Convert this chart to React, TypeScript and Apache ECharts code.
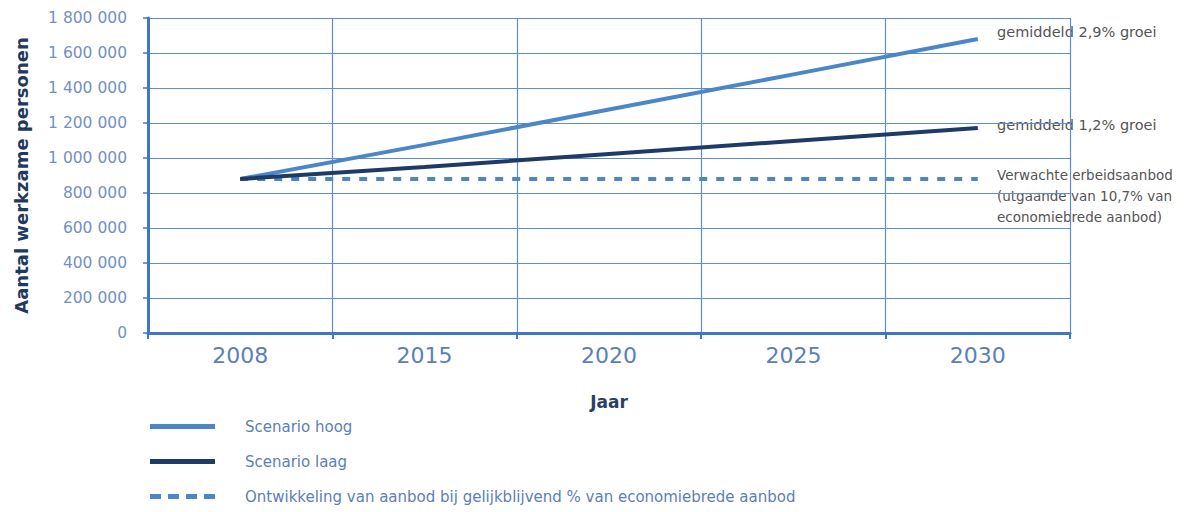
import React, { useEffect, useRef } from "react";
import * as echarts from "echarts";

const years = ["2008", "2015", "2020", "2025", "2030"];
const scenarioHoog = [880000, 1075000, 1277000, 1478000, 1680000];
const scenarioLaag = [880000, 949000, 1023000, 1097000, 1171000];
const gelijkblijvend = [880000, 880000, 880000, 880000, 880000];
const seriesNames = [
  "Scenario hoog",
  "Scenario laag",
  "Ontwikkeling van aanbod bij gelijkblijvend % van economiebrede aanbod",
];
const annotations = [
  "gemiddeld 2,9% groei",
  "gemiddeld 1,2% groei",
  "Verwachte erbeidsaanbod\n(utgaande van 10,7% van\neconomiebrede aanbod)",
];

const FONT = "DejaVu Sans";
const BLUE = "#4a86c8";
const NAVY = "#1e3a66";
const GRID = "#5b8fd0";
const AXIS = "#3f78c0";

export default function App() {
  const ref = useRef<HTMLDivElement>(null);
  useEffect(() => {
    if (!ref.current) return;
    const chart = echarts.init(ref.current, undefined, { renderer: "svg" });
    const fmt = (v: number) => String(v).replace(/\B(?=(\d{3})+(?!\d))/g, " ");
    chart.setOption({
      animation: false,
      grid: {
        left: 148,
        right: 132,
        top: 18,
        bottom: 179,
        containLabel: false,
        outerBoundsMode: "none",
      },
      xAxis: {
        type: "category",
        data: years,
        boundaryGap: true,
        name: "Jaar",
        nameLocation: "middle",
        nameGap: 60,
        nameTextStyle: { fontFamily: FONT, fontWeight: "bold", fontSize: 17, color: "#2a3f62" },
        axisLine: { show: true, lineStyle: { color: AXIS, width: 3 } },
        axisTick: { show: true, length: 6, lineStyle: { color: AXIS, width: 2 } },
        axisLabel: { fontFamily: FONT, fontSize: 22, color: "#5b80b8", margin: 11 },
        splitLine: { show: true, lineStyle: { color: GRID, width: 1.2 } },
      },
      yAxis: {
        type: "value",
        min: 0,
        max: 1800000,
        interval: 200000,
        name: "Aantal werkzame personen",
        nameLocation: "middle",
        nameGap: 118,
        nameTextStyle: { fontFamily: FONT, fontWeight: "bold", fontSize: 18, color: "#1f3a60" },
        axisLine: { show: true, lineStyle: { color: AXIS, width: 3 } },
        axisTick: { show: true, length: 5, lineStyle: { color: AXIS, width: 1.5 } },
        axisLabel: { fontFamily: FONT, fontSize: 15.5, color: "#7390c2", margin: 21, formatter: fmt },
        splitLine: { show: true, lineStyle: { color: GRID, width: 1.2 } },
      },
      legend: {
        orient: "vertical",
        left: 145,
        top: 414,
        itemWidth: 65,
        itemHeight: 5,
        itemGap: 20,
        selectedMode: false,
        textStyle: { fontFamily: FONT, fontSize: 15, color: "#5b7fb5", padding: [0, 0, 0, 25] },
        data: [
          { name: seriesNames[0], icon: "rect", itemStyle: { color: BLUE } },
          { name: seriesNames[1], icon: "rect", itemStyle: { color: NAVY } },
          {
            name: seriesNames[2],
            icon: "path://M0,0h11v5h-11z M18,0h11v5h-11z M36,0h11v5h-11z M54,0h11v5h-11z",
            itemStyle: { color: BLUE },
          },
        ],
      },
      graphic: [
        {
          type: "text",
          left: 997,
          top: 24,
          style: { text: annotations[0], fontFamily: FONT, fontSize: 14.5, fill: "#555" },
        },
        {
          type: "text",
          left: 997,
          top: 117,
          style: { text: annotations[1], fontFamily: FONT, fontSize: 14.5, fill: "#555" },
        },
        {
          type: "text",
          left: 997,
          top: 164,
          style: { text: annotations[2], fontFamily: FONT, fontSize: 13.5, lineHeight: 21, fill: "#555" },
        },
      ],
      series: [
        {
          name: seriesNames[0],
          type: "line",
          data: scenarioHoog,
          symbol: "none",
          color: BLUE,
          lineStyle: { color: BLUE, width: 4 },
          z: 3,
        },
        {
          name: seriesNames[1],
          type: "line",
          data: scenarioLaag,
          symbol: "none",
          color: NAVY,
          lineStyle: { color: NAVY, width: 4 },
          z: 4,
        },
        {
          name: seriesNames[2],
          type: "line",
          data: gelijkblijvend,
          symbol: "none",
          color: BLUE,
          lineStyle: { color: BLUE, width: 4, type: [8, 9] },
          z: 2,
        },
      ],
    });
    return () => chart.dispose();
  }, []);
  return (
    <div
      ref={ref}
      style={{ position: "absolute", left: 0, top: 0, width: 1202, height: 512 }}
    />
  );
}
